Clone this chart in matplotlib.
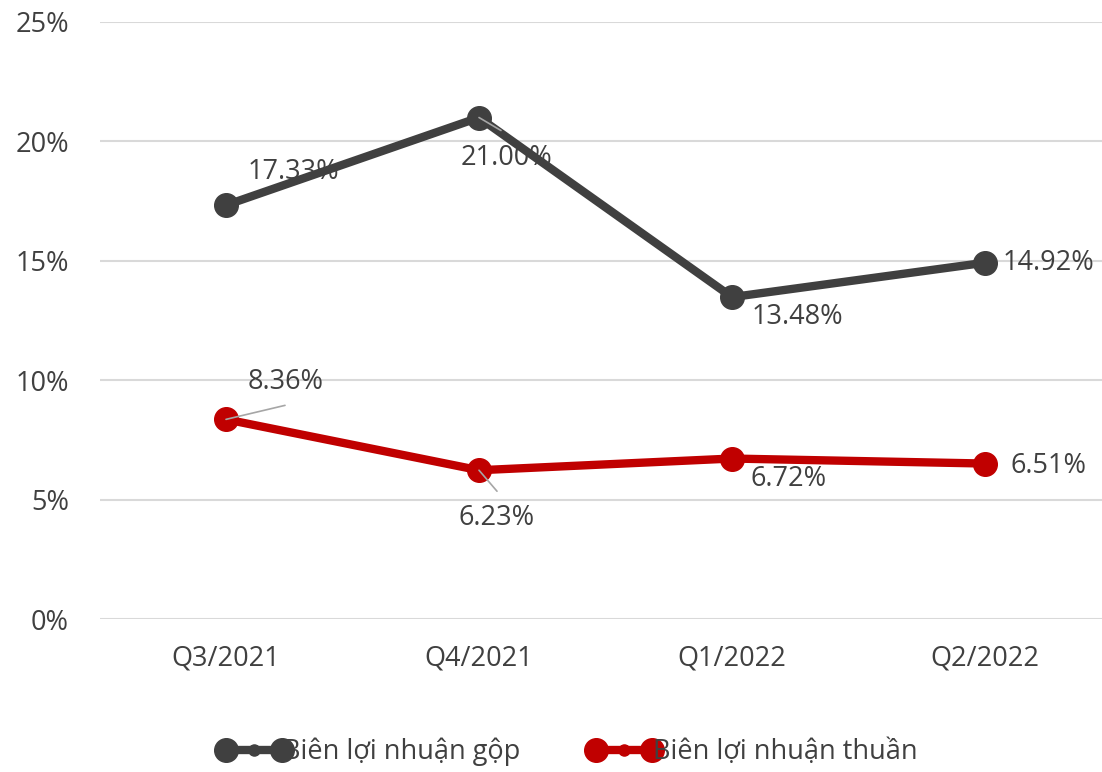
import matplotlib
matplotlib.use("Agg")
import matplotlib.pyplot as plt
from matplotlib.lines import Line2D
from matplotlib.legend_handler import HandlerBase
from matplotlib.ticker import FuncFormatter

categories = ["Q3/2021", "Q4/2021", "Q1/2022", "Q2/2022"]
gross_margin = [17.33, 21.00, 13.48, 14.92]
net_margin = [8.36, 6.23, 6.72, 6.51]
series_names = ["Biên lợi nhuận gộp", "Biên lợi nhuận thuần"]
y_ticks = [0, 5, 10, 15, 20, 25]

GRAY = "#404040"
RED = "#C00000"
TXT = "#404040"
FONT = "Open Sans"
FS = 19.5

plt.rcParams["font.family"] = [FONT, "DejaVu Sans"]

fig = plt.figure(figsize=(11.02, 7.72), dpi=100)
W, H = 1102, 772
ax = fig.add_axes([99.5 / W, 153 / H, 1012 / W, 597 / H])

x = list(range(len(categories)))
ax.set_xlim(-0.5, 3.5)
ax.set_ylim(0, 25)
ax.set_yticks(y_ticks)
ax.yaxis.set_major_formatter(FuncFormatter(lambda v, p: f"{v:.0f}%"))
ax.set_xticks(x)
ax.set_xticklabels(categories)
ax.grid(axis="y", color="#D9D9D9", lw=1.5, zorder=0)
ax.set_axisbelow(True)
for s in ax.spines.values():
    s.set_visible(False)
ax.tick_params(axis="both", length=0, labelsize=FS, labelcolor=TXT)
ax.tick_params(axis="y", pad=22)
ax.tick_params(axis="x", pad=18)

ax.plot(x, gross_margin, color=GRAY, lw=6, marker="o", ms=17, zorder=4, clip_on=False)
ax.plot(x, net_margin, color=RED, lw=6, marker="o", ms=17, zorder=4, clip_on=False)

# data labels: offsets in pixels
g_off = [(67, 33), (27, -40), (65, -20), (63, 0)]
n_off = [(60, 37), (18, -48), (57, -20), (63, -2)]
for xi, v, off in zip(x, gross_margin, g_off):
    ax.annotate(f"{v:.2f}%", (xi, v), xytext=off, textcoords="offset pixels",
                ha="center", va="center", fontsize=FS, color=TXT, zorder=3)
for xi, v, off in zip(x, net_margin, n_off):
    ax.annotate(f"{v:.2f}%", (xi, v), xytext=off, textcoords="offset pixels",
                ha="center", va="center", fontsize=FS, color=TXT, zorder=3)

# leader lines
leaders = [(0, net_margin[0], (59, 14)), (1, net_margin[1], (18, -21)),
           (1, gross_margin[1], (22, -13))]
for xi, v, off in leaders:
    ax.annotate("", (xi, v), xytext=off, textcoords="offset pixels",
                arrowprops=dict(arrowstyle="-", color="#A6A6A6", lw=1.2,
                                shrinkA=0, shrinkB=0), zorder=5)


class ExcelHandler(HandlerBase):
    def create_artists(self, legend, orig_handle, xdescent, ydescent, width,
                       height, fontsize, trans):
        c = orig_handle.get_color()
        y = height / 2 - ydescent
        x0, x1 = -xdescent, width - xdescent
        ln = Line2D([x0, x1], [y, y], color=c, lw=6)
        big = Line2D([x0, x1], [y, y], ls="", marker="o", ms=17, color=c)
        small = Line2D([(x0 + x1) / 2], [y], ls="", marker="o", ms=8, color=c)
        for a in (ln, big, small):
            a.set_transform(trans)
        return [ln, big, small]


h1 = Line2D([], [], color=GRAY)
h2 = Line2D([], [], color=RED)
fig.legend([h1, h2], series_names, loc="center",
           bbox_to_anchor=(572 / W, 1 - 752 / H), ncol=2, frameon=False,
           handler_map={Line2D: ExcelHandler()}, handlelength=2.05,
           handletextpad=0.05, columnspacing=2.8, fontsize=FS,
           labelcolor=TXT)

fig.savefig("out.png", dpi=100)
